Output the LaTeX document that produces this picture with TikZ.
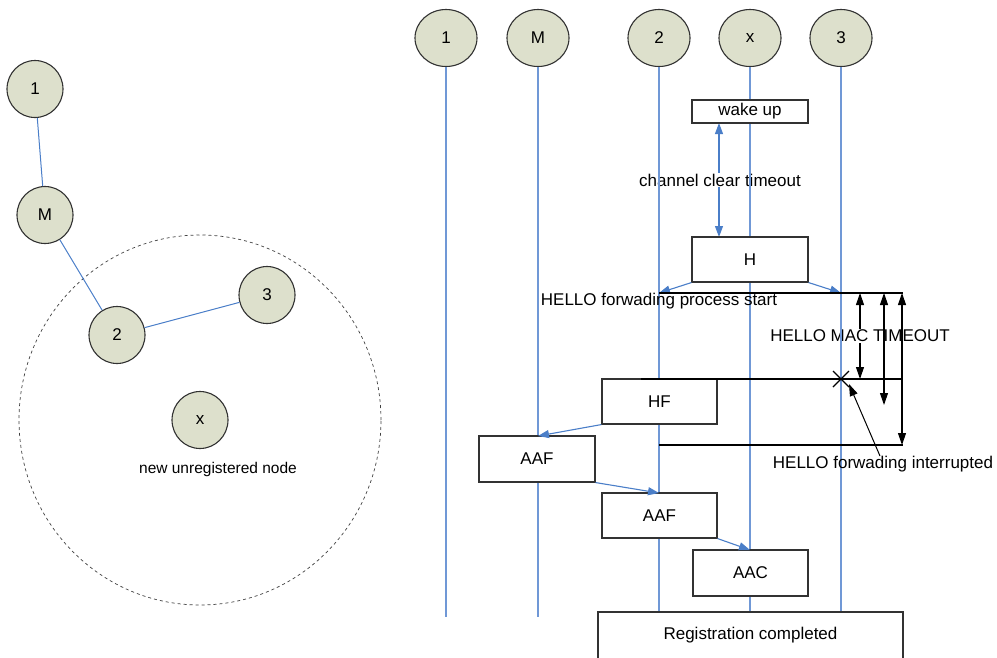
\documentclass[tikz,border=0pt]{standalone}
\usepackage{fontspec}
\setmainfont{Liberation Sans}
\usetikzlibrary{arrows.meta,shapes.geometric}
\definecolor{nodefill}{RGB}{221,224,204}
\definecolor{lifeblue}{RGB}{112,152,214}
\definecolor{arrblue}{RGB}{74,126,200}
\definecolor{boxline}{RGB}{50,50,50}
\begin{document}
\begin{tikzpicture}[x=1pt,y=-1pt,
  every node/.style={font=\fontsize{17}{20}\selectfont},
  head/.style={ellipse,draw=boxline,line width=1.1pt,fill=nodefill,minimum width=62,minimum height=57,inner sep=0pt},
  netnode/.style={ellipse,draw=boxline,line width=1.1pt,fill=nodefill,minimum width=56,minimum height=57,inner sep=0pt},
  lifeline/.style={draw=lifeblue,line width=1.2pt},
  msgbox/.style={rectangle,draw=boxline,line width=1.1pt,fill=white,inner sep=0pt},
  bluearrow/.style={draw=arrblue,line width=1.1pt,-{Triangle[length=11pt,width=8pt]}},
  bluedouble/.style={draw=arrblue,line width=1.1pt,{Triangle[length=11pt,width=8pt]}-{Triangle[length=11pt,width=8pt]}},
  blackline/.style={draw=black,line width=1.6pt},
  blackdouble/.style={draw=black,line width=1.1pt,{Triangle[length=12pt,width=8pt]}-{Triangle[length=12pt,width=8pt]}},
  netedge/.style={draw=arrblue,line width=1pt},
  label/.style={fill=white,inner sep=1pt}
]
\useasboundingbox (0,0) rectangle (997,657);
\clip (0,0) rectangle (997,657);
% ---------- left network ----------
\node[draw=black!75,dashed,line width=0.7pt,ellipse,minimum width=362,minimum height=370,inner sep=0pt] (range) at (200,420) {};
\node[netnode] (n1) at (35,89) {1};
\node[netnode] (nM) at (45,215) {M};
\node[netnode] (n2) at (117,335) {2};
\node[netnode] (n3) at (267,295) {3};
\node[netnode] (nx) at (200,420) {x};
\node[font=\fontsize{15.5}{18}\selectfont] (nxlabel) at (218,469) {new unregistered node};
\draw[netedge] (n1) -- (nM);
\draw[netedge] (nM) -- (n2);
\draw[netedge] (n2) -- (n3);
% ---------- sequence heads ----------
\node[head] (h1) at (446,38) {1};
\node[head] (hM) at (538,38) {M};
\node[head] (h2) at (659,38) {2};
\node[head] (hx) at (750,38) {x};
\node[head] (h3) at (841,38) {3};
\coordinate (e1) at (446,617);
\coordinate (eM) at (538,617);
\coordinate (e2) at (659,617);
\coordinate (ex) at (750,617);
\coordinate (e3) at (841,617);
% ---------- labelled arrows under lifelines ----------
\coordinate (wb) at (719,123);
\coordinate (ht) at (719,237);
\draw[bluedouble] (wb) -- (ht);
\node[label] (cct) at (720,180) {channel clear timeout};
\coordinate (t1a) at (860,293);
\coordinate (t1b) at (860,379);
\draw[blackdouble] (t1a) -- (t1b);
\node[label] (hmt) at (860,336) {HELLO MAC TIMEOUT};
% ---------- lifelines ----------
\draw[lifeline] (h1) -- (e1);
\draw[lifeline] (hM) -- (eM);
\draw[lifeline] (h2) -- (e2);
\draw[lifeline] (hx) -- (ex);
\draw[lifeline] (h3) -- (e3);
% ---------- boxes ----------
\node[msgbox,minimum width=116,minimum height=23] (wake) at (750,111.5) {wake up};
\node[msgbox,minimum width=116,minimum height=45] (H) at (750,259.5) {H};
% blue arrows from H
\coordinate (l2a) at (659,293);
\coordinate (l3a) at (841,293);
\draw[bluearrow] (H.south west) -- (l2a);
\draw[bluearrow] (H.south east) -- (l3a);
% black horizontal lines
\coordinate (r1) at (903,293);
\coordinate (s2) at (641,379);
\coordinate (r2) at (903,379);
\coordinate (s3) at (659,445);
\coordinate (r3) at (903,445);
\node (hfps) at (659,301) {HELLO forwading process start};
\node[msgbox,minimum width=115,minimum height=45] (HF) at (659.5,401.5) {HF};
\draw[blackline] (l2a) -- (r1);
\draw[blackline] (s2) -- (r2);
\draw[blackline] (s3) -- (r3);
% timeouts
\coordinate (t2a) at (884,293);
\coordinate (t2b) at (884,405);
\coordinate (t3a) at (902,293);
\coordinate (t3b) at (902,445);
\draw[blackdouble] (t2a) -- (t2b);
\draw[blackdouble] (t3a) -- (t3b);
% X mark
\coordinate (xm) at (841,379);
\draw[black,line width=1.2pt] ([shift={(-8,-8)}]xm) -- ([shift={(8,8)}]xm);
\draw[black,line width=1.2pt] ([shift={(-8,8)}]xm) -- ([shift={(8,-8)}]xm);
\node (hfi) at (883,464) {HELLO forwading interrupted};
\coordinate (ia) at (880,456);
\coordinate (ib) at (849,384);
\draw[black,line width=1pt,-{Triangle[length=12pt,width=8pt]}] (ia) -- (ib);
% registration messages
\node[msgbox,minimum width=116,minimum height=46] (AAF1) at (537,459) {AAF};
\node[msgbox,minimum width=115,minimum height=45] (AAF2) at (659.5,515.5) {AAF};
\node[msgbox,minimum width=115,minimum height=46] (AAC) at (750.5,573) {AAC};
\coordinate (mA) at (538,436);
\coordinate (m2) at (659,493);
\coordinate (mx) at (750,550);
\draw[bluearrow] (HF.south west) -- (mA);
\draw[bluearrow] (AAF1.south east) -- (m2);
\draw[bluearrow] (AAF2.south east) -- (mx);
\node[msgbox,minimum width=305,minimum height=60] (reg) at (750.5,642) {};
\node (regt) at (750.5,635) {Registration completed};
\end{tikzpicture}
\end{document}
